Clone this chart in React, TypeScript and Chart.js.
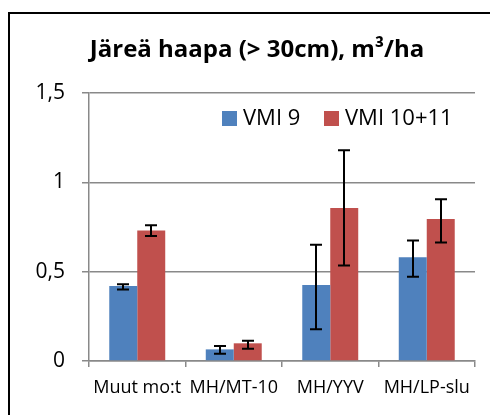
import React, { useEffect, useRef } from "react";
import { Chart, registerables } from "chart.js";

Chart.register(...registerables);

const categories = ["Muut mo:t", "MH/MT-10", "MH/YYV", "MH/LP-slu"];
const seriesNames = ["VMI 9", "VMI 10+11"];
const vmi9 = [0.42, 0.065, 0.425, 0.58];
const vmi9Low = [0.4, 0.04, 0.178, 0.472];
const vmi9High = [0.43, 0.084, 0.65, 0.675];
const vmi1011 = [0.73, 0.099, 0.857, 0.795];
const vmi1011Low = [0.7, 0.069, 0.535, 0.663];
const vmi1011High = [0.76, 0.114, 1.18, 0.905];
const yTicks = [0, 0.5, 1, 1.5];
const titleText = "Järeä haapa (> 30cm), m³/ha";

const BLUE = "#4f81bd";
const RED = "#c0504d";
const GRID = "#898989";
const FONT = "'Open Sans', sans-serif";

const errorBarPlugin = {
  id: "errorBars",
  afterDatasetsDraw(chart: any) {
    const ctx = chart.ctx;
    const yScale = chart.scales.y;
    const lows = [vmi9Low, vmi1011Low];
    const highs = [vmi9High, vmi1011High];
    ctx.save();
    ctx.strokeStyle = "#000";
    ctx.lineWidth = 2;
    chart.data.datasets.forEach((_: any, i: number) => {
      const meta = chart.getDatasetMeta(i);
      meta.data.forEach((el: any, j: number) => {
        const x = Math.round(el.x);
        const yl = yScale.getPixelForValue(lows[i][j]);
        const yh = yScale.getPixelForValue(highs[i][j]);
        ctx.beginPath();
        ctx.moveTo(x, yl);
        ctx.lineTo(x, yh);
        ctx.moveTo(x - 6, yl);
        ctx.lineTo(x + 6, yl);
        ctx.moveTo(x - 6, yh);
        ctx.lineTo(x + 6, yh);
        ctx.stroke();
      });
    });
    ctx.restore();
  },
};

const decorPlugin = {
  id: "decor",
  afterDraw(chart: any) {
    const ctx = chart.ctx;
    ctx.save();
    ctx.fillStyle = "#000";
    ctx.font = `bold 24px ${FONT}`;
    ctx.textAlign = "center";
    ctx.textBaseline = "middle";
    ctx.fillText(titleText, 257, 50);

    const colors = [BLUE, RED];
    const boxX = [222, 324];
    ctx.font = `22px ${FONT}`;
    ctx.textAlign = "left";
    seriesNames.forEach((name, i) => {
      ctx.fillStyle = colors[i];
      ctx.fillRect(boxX[i], 111, 15, 15);
      ctx.fillStyle = "#000";
      ctx.fillText(name, boxX[i] + 21, 119);
    });
    ctx.restore();
  },
};

export default function App() {
  const ref = useRef<HTMLCanvasElement>(null);
  useEffect(() => {
    if (!ref.current) return;
    const chart = new Chart(ref.current, {
      type: "bar",
      data: {
        labels: categories,
        datasets: [
          { label: seriesNames[0], data: vmi9, backgroundColor: BLUE },
          { label: seriesNames[1], data: vmi1011, backgroundColor: RED },
        ],
      },
      options: {
        responsive: false,
        animation: false,
        devicePixelRatio: 1,
        layout: { padding: { top: 93, right: 15, left: 0, bottom: 0 } },
        datasets: { bar: { barPercentage: 1, categoryPercentage: 0.58 } },
        plugins: {
          legend: { display: false },
          tooltip: { enabled: false },
        },
        scales: {
          y: {
            min: 0,
            max: 1.5,
            afterBuildTicks: (scale: any) => {
              scale.ticks = yTicks.map((v) => ({ value: v }));
            },
            afterFit: (scale: any) => {
              scale.width = 89;
            },
            ticks: {
              color: "#000",
              font: { family: FONT, size: 21 },
              padding: 17,
              callback: (v: any) => String(v).replace(".", ","),
            },
            grid: { color: GRID, lineWidth: 1.5, tickLength: 7 },
            border: { color: GRID, width: 1.5 },
          },
          x: {
            afterFit: (scale: any) => {
              scale.height = 54;
            },
            ticks: {
              color: "#000",
              font: { family: FONT, size: 18 },
              padding: 10,
              maxRotation: 0,
              autoSkip: false,
            },
            grid: {
              color: GRID,
              lineWidth: 1.5,
              drawOnChartArea: false,
              tickLength: 6,
              offset: true,
            },
            border: { color: GRID, width: 1.5 },
          },
        },
      },
      plugins: [errorBarPlugin, decorPlugin],
    });
    return () => chart.destroy();
  }, []);

  return (
    <div
      style={{
        position: "fixed",
        left: 0,
        top: 0,
        width: 490,
        height: 415,
        overflow: "hidden",
        background: "#fff",
      }}
    >
      <div
        style={{
          position: "absolute",
          left: 8,
          top: 12,
          width: 520,
          height: 440,
          border: "2px solid #000",
        }}
      />
      <canvas
        ref={ref}
        width={490}
        height={415}
        style={{ position: "absolute", left: 0, top: 0, width: 490, height: 415 }}
      />
    </div>
  );
}
